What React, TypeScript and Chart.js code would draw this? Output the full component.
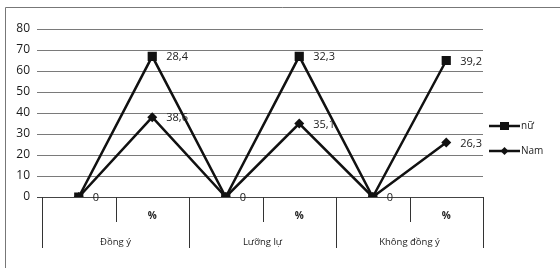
import React, { useEffect, useRef } from "react";
import { Chart, registerables } from "chart.js";

Chart.register(...registerables);

const categories = ["", "%", "", "%", "", "%"];
const groups = ["Đồng ý", "Lưỡng lự", "Không đồng ý"];
const nuValues = [0, 67, 0, 67, 0, 65];
const namValues = [0, 38, 0, 35, 0, 26];
const nuLabels = ["0", "28,4", "0", "32,3", "0", "39,2"];
const namLabels = ["0", "38,6", "0", "35,1", "0", "26,3"];
const yTicks = [0, 10, 20, 30, 40, 50, 60, 70, 80];

const FONT = "'Open Sans', 'Liberation Sans', sans-serif";

const decorPlugin = {
  id: "decor",
  beforeDraw(chart: any) {
    const ctx = chart.ctx;
    ctx.save();
    ctx.strokeStyle = "#777";
    ctx.lineWidth = 1;
    ctx.beginPath();
    ctx.moveTo(5.5, 268);
    ctx.lineTo(5.5, 7.5);
    ctx.lineTo(560, 7.5);
    ctx.stroke();
    ctx.restore();
  },
  afterDatasetsDraw(chart: any) {
    const ctx = chart.ctx;
    const x = chart.scales.x;
    const ca = chart.chartArea;
    const bottom = ca.bottom;
    ctx.save();
    ctx.strokeStyle = "#444";
    ctx.lineWidth = 1;
    ctx.beginPath();
    ctx.moveTo(ca.left - 5, bottom + 0.5);
    ctx.lineTo(ca.right, bottom + 0.5);
    ctx.stroke();
    const n = categories.length;
    const px = (i: number) => x.getPixelForValue(i);
    const bounds: number[] = [];
    for (let i = 0; i <= n; i++) {
      if (i === 0) bounds.push(ca.left);
      else if (i === n) bounds.push(ca.right);
      else bounds.push((px(i - 1) + px(i)) / 2);
    }
    ctx.strokeStyle = "#333";
    for (let i = 0; i <= n; i++) {
      const long = i % 2 === 0;
      const bx = Math.round(bounds[i]) + 0.5;
      ctx.beginPath();
      ctx.moveTo(bx, bottom);
      ctx.lineTo(bx, bottom + (long ? 51 : 25));
      ctx.stroke();
    }
    ctx.fillStyle = "#222";
    ctx.textAlign = "center";
    ctx.textBaseline = "middle";
    ctx.font = "bold 10px " + FONT;
    categories.forEach((c, i) => {
      if (c) ctx.fillText(c, px(i), bottom + 19);
    });
    ctx.font = "9.5px " + FONT;
    groups.forEach((g, gi) => {
      const cx = (bounds[gi * 2] + bounds[gi * 2 + 2]) / 2;
      ctx.fillText(g, cx, bottom + 45);
    });
    ctx.font = "11px " + FONT;
    ctx.textAlign = "left";
    const lbls = [nuLabels, namLabels];
    const drawn = new Set<string>();
    chart.data.datasets.forEach((ds: any, di: number) => {
      const meta = chart.getDatasetMeta(di);
      meta.data.forEach((pt: any, i: number) => {
        const key = Math.round(pt.x) + "," + Math.round(pt.y) + "," + lbls[di][i];
        if (drawn.has(key)) return;
        drawn.add(key);
        ctx.fillText(lbls[di][i], pt.x + 14, pt.y + 1);
      });
    });
    const items = chart.data.datasets;
    items.forEach((ds: any, i: number) => {
      const ly = 126 + i * 25;
      ctx.strokeStyle = "#111";
      ctx.lineWidth = 2.5;
      ctx.beginPath();
      ctx.moveTo(489, ly);
      ctx.lineTo(520, ly);
      ctx.stroke();
      ctx.fillStyle = "#111";
      if (ds.pointStyle === "rect") {
        ctx.fillRect(500, ly - 4, 9, 8);
      } else {
        ctx.beginPath();
        ctx.moveTo(504.5, ly - 4);
        ctx.lineTo(508.5, ly);
        ctx.lineTo(504.5, ly + 4);
        ctx.lineTo(500.5, ly);
        ctx.closePath();
        ctx.fill();
      }
      ctx.fillStyle = "#222";
      ctx.font = "10px " + FONT;
      ctx.textAlign = "left";
      ctx.textBaseline = "middle";
      ctx.fillText(ds.label, 521, ly);
    });
    ctx.restore();
  },
};

export default function App() {
  const ref = useRef<HTMLCanvasElement>(null);
  useEffect(() => {
    if (!ref.current) return;
    const chart = new Chart(ref.current, {
      type: "line",
      data: {
        labels: categories.map((c, i) => String(i)),
        datasets: [
          {
            label: "nữ",
            data: nuValues,
            borderColor: "#111",
            backgroundColor: "#111",
            borderWidth: 2.5,
            pointStyle: "rect",
            pointRadius: 6.5,
            pointBorderWidth: 0,
            tension: 0,
          },
          {
            label: "Nam",
            data: namValues,
            borderColor: "#111",
            backgroundColor: "#111",
            borderWidth: 2.5,
            pointStyle: "rectRot",
            pointRadius: 5,
            pointBorderWidth: 0,
            tension: 0,
          },
        ],
      },
      options: {
        responsive: false,
        animation: false,
        layout: { padding: { left: 0, top: 29, right: 77, bottom: 71 } },
        plugins: { legend: { display: false }, tooltip: { enabled: false } },
        scales: {
          x: { display: false, offset: true },
          y: {
            min: 0,
            max: 80,
            afterFit: (s: any) => {
              s.width = 42;
            },
            afterBuildTicks: (s: any) => {
              s.ticks = yTicks.map((v) => ({ value: v }));
            },
            border: { display: false },
            grid: {
              color: "#7a7a7a",
              lineWidth: 1,
              tickLength: 5,
              drawTicks: true,
            },
            ticks: {
              padding: 7,
              color: "#1a1a1a",
              font: { family: FONT, size: 12 },
            },
          },
        },
      },
      plugins: [decorPlugin],
    });
    return () => chart.destroy();
  }, []);
  return (
    <div style={{ position: "absolute", left: 0, top: 0, width: 560, height: 268, background: "#fff" }}>
      <canvas ref={ref} width={560} height={268} />
    </div>
  );
}
